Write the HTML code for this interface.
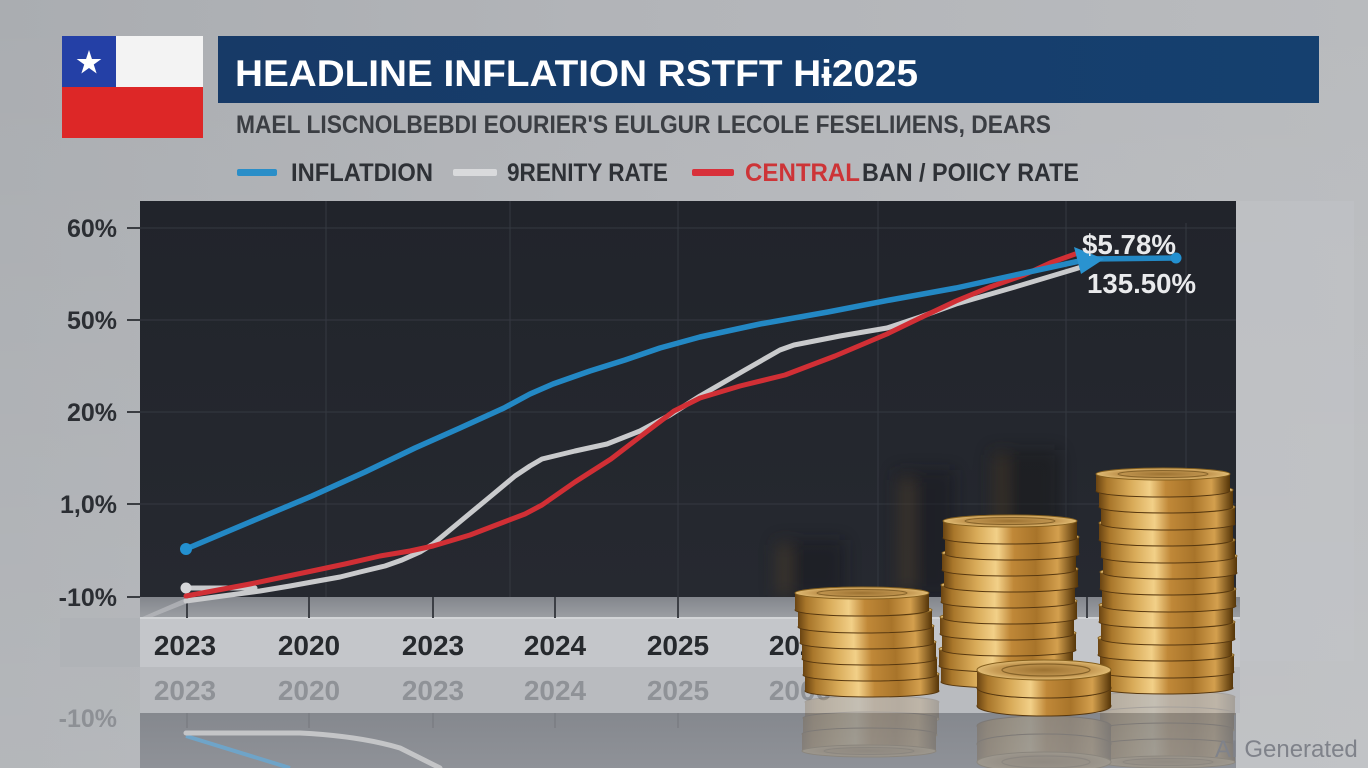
<!DOCTYPE html>
<html><head><meta charset="utf-8"><style>
html,body{margin:0;padding:0;width:1368px;height:768px;overflow:hidden;background:#b1b4b8}
svg{display:block}
text{font-family:"Liberation Sans","DejaVu Sans",sans-serif}
</style></head><body>
<svg width="1368" height="768" viewBox="0 0 1368 768" xmlns="http://www.w3.org/2000/svg">
<defs>
<linearGradient id="bg" x1="0" y1="0" x2="1" y2="0">
<stop offset="0" stop-color="#aaadb1"/><stop offset="0.5" stop-color="#b3b5b9"/><stop offset="1" stop-color="#b9bbbe"/>
</linearGradient>
<linearGradient id="bgv" x1="0" y1="0" x2="0" y2="1">
<stop offset="0" stop-color="#ffffff" stop-opacity="0"/><stop offset="1" stop-color="#ffffff" stop-opacity="0.12"/>
</linearGradient>
<linearGradient id="bar" x1="0" y1="0" x2="1" y2="0">
<stop offset="0" stop-color="#173a67"/><stop offset="1" stop-color="#15406f"/>
</linearGradient>
<linearGradient id="panel" x1="0" y1="0" x2="0" y2="1">
<stop offset="0" stop-color="#21242b"/><stop offset="1" stop-color="#262930"/>
</linearGradient>
<linearGradient id="band" x1="0" y1="0" x2="0" y2="1">
<stop offset="0" stop-color="#83868c"/><stop offset="1" stop-color="#9c9fa4"/>
</linearGradient>
<linearGradient id="refl" x1="0" y1="0" x2="0" y2="1">
<stop offset="0" stop-color="#85888e"/><stop offset="1" stop-color="#8f9298"/>
</linearGradient>
<linearGradient id="gold" x1="0" y1="0" x2="1" y2="0">
<stop offset="0" stop-color="#6a4412"/><stop offset="0.08" stop-color="#a8762a"/>
<stop offset="0.25" stop-color="#d8aa58"/><stop offset="0.4" stop-color="#f2d088"/>
<stop offset="0.52" stop-color="#c08838"/><stop offset="0.7" stop-color="#a8742a"/>
<stop offset="0.86" stop-color="#d4a04e"/><stop offset="1" stop-color="#553508"/>
</linearGradient>
<radialGradient id="goldTop" cx="0.5" cy="0.5" r="0.5">
<stop offset="0" stop-color="#9c7232"/><stop offset="0.7" stop-color="#c49852"/><stop offset="1" stop-color="#e0bb74"/>
</radialGradient>
<g id="coin">
<ellipse cx="0" cy="17" rx="67" ry="6" fill="url(#gold)" stroke="#573810" stroke-width="1"/>
<rect x="-67" y="0" width="134" height="17" fill="url(#gold)"/>
<ellipse cx="0" cy="0" rx="67" ry="6" fill="url(#goldTop)" stroke="#85601f" stroke-width="1"/>
<ellipse cx="0" cy="0" rx="45" ry="3.5" fill="none" stroke="#86632a" stroke-width="1"/>
</g>
<g id="coinF">
<ellipse cx="0" cy="18" rx="67" ry="10" fill="url(#gold)" stroke="#573810" stroke-width="1"/>
<rect x="-67" y="0" width="134" height="18" fill="url(#gold)"/>
<ellipse cx="0" cy="0" rx="67" ry="10" fill="url(#goldTop)" stroke="#85601f" stroke-width="1"/>
<ellipse cx="2" cy="0" rx="44" ry="6" fill="none" stroke="#86632a" stroke-width="1.2"/>
</g>
<filter id="blur" x="-50%" y="-50%" width="200%" height="200%"><feGaussianBlur stdDeviation="8"/></filter>
</defs>

<rect x="0" y="0" width="1368" height="768" fill="url(#bg)"/>
<rect x="0" y="0" width="1368" height="768" fill="url(#bgv)"/>
<rect x="1236" y="201" width="118" height="460" fill="#c2c4c7" opacity="0.5"/>

<rect x="62" y="36" width="141" height="102" fill="#f3f3f3"/>
<rect x="62" y="36" width="54" height="51" fill="#2440a6"/>
<rect x="62" y="87" width="141" height="51" fill="#dd2727"/>
<polygon points="89,50 91.94,58.95 101.36,58.98 93.76,64.55 96.64,73.52 89,68 81.36,73.52 84.24,64.55 76.64,58.98 86.06,58.95" fill="#ffffff"/>

<rect x="218" y="36" width="1101" height="67" fill="url(#bar)"/>
<text x="235" y="86" font-size="37" font-weight="bold" fill="#ffffff" textLength="683" lengthAdjust="spacingAndGlyphs">HEADLINE INFLATION RSTFT Hɨ2025</text>

<text x="236" y="133" font-size="25" font-weight="bold" fill="#3b3e43" textLength="815" lengthAdjust="spacingAndGlyphs">MAEL LISCNOLBEBDI EOURIER'S EULGUR LECOLE FESELIИENS, DEARS</text>

<rect x="237" y="169" width="40" height="7" rx="2" fill="#2a8ec8"/>
<text x="291" y="181" font-size="25" font-weight="bold" fill="#2e3136" textLength="142" lengthAdjust="spacingAndGlyphs">INFLATDION</text>
<rect x="453" y="169" width="44" height="7" rx="2" fill="#d9dadc"/>
<text x="507" y="181" font-size="25" font-weight="bold" fill="#2e3136" textLength="161" lengthAdjust="spacingAndGlyphs">9RENITY RATE</text>
<rect x="692" y="169" width="42" height="7" rx="2" fill="#d8303a"/>
<text x="745" y="181" font-size="25" font-weight="bold" fill="#cd3437" textLength="115" lengthAdjust="spacingAndGlyphs">CENTRAL</text>
<text x="862" y="181" font-size="25" font-weight="bold" fill="#2e3136" textLength="217" lengthAdjust="spacingAndGlyphs">BAN / POIICY RATE</text>

<rect x="140" y="201" width="1096" height="396" fill="url(#panel)"/>
<g stroke="#353941" stroke-width="1">
<line x1="140" y1="228" x2="1236" y2="228"/>
<line x1="140" y1="320" x2="1236" y2="320"/>
<line x1="140" y1="412" x2="1236" y2="412"/>
<line x1="140" y1="504" x2="1236" y2="504"/>
<line x1="326" y1="201" x2="326" y2="597"/>
<line x1="510" y1="201" x2="510" y2="597"/>
<line x1="678" y1="201" x2="678" y2="597"/>
<line x1="878" y1="201" x2="878" y2="597"/>
<line x1="1066" y1="201" x2="1066" y2="597"/>
<line x1="1186" y1="223" x2="1186" y2="597"/>
</g>
<g filter="url(#blur)" opacity="0.45">
<rect x="775" y="540" width="70" height="57" fill="#15171b"/>
<rect x="895" y="470" width="60" height="127" fill="#15171b"/>
<rect x="990" y="450" width="70" height="147" fill="#141619"/>
<rect x="780" y="545" width="8" height="50" fill="#6b5530"/>
<rect x="903" y="480" width="8" height="110" fill="#6b5530"/>
<rect x="997" y="455" width="8" height="130" fill="#5e4a2a"/>
</g>

<g stroke="#3a3d42" stroke-width="2">
<line x1="127" y1="228" x2="140" y2="228"/>
<line x1="127" y1="320" x2="140" y2="320"/>
<line x1="127" y1="412" x2="140" y2="412"/>
<line x1="127" y1="504" x2="140" y2="504"/>
<line x1="127" y1="597" x2="140" y2="597"/>
</g>
<g font-size="25" font-weight="bold" fill="#2b2e33" text-anchor="end">
<text x="117" y="237">60%</text>
<text x="117" y="329">50%</text>
<text x="117" y="421">20%</text>
<text x="117" y="513">1,0%</text>
<text x="117" y="606">-10%</text>
</g>

<rect x="140" y="597" width="1100" height="21" fill="url(#band)"/>
<polygon points="140,618 186,598 200,598 150,618" fill="#b9bbbf" opacity="0.7"/>
<rect x="60" y="618" width="80" height="49" fill="#b0b3b7"/>
<rect x="140" y="618" width="1100" height="49" fill="#c4c6ca"/>
<line x1="140" y1="618" x2="1240" y2="618" stroke="#d2d4d7" stroke-width="2"/>
<rect x="140" y="667" width="1100" height="46" fill="#b9bbbf"/>
<rect x="140" y="713" width="1096" height="55" fill="url(#refl)"/>
<g stroke="#3c3f45" stroke-width="2">
<line x1="187" y1="597" x2="187" y2="618"/>
<line x1="309" y1="597" x2="309" y2="618"/>
<line x1="433" y1="597" x2="433" y2="618"/>
<line x1="555" y1="597" x2="555" y2="618"/>
<line x1="678" y1="597" x2="678" y2="618"/>
<line x1="1087" y1="597" x2="1087" y2="618"/>
</g>
<g stroke="#7a7d83" stroke-width="1.5">
<line x1="187" y1="713" x2="187" y2="728"/>
<line x1="309" y1="713" x2="309" y2="728"/>
<line x1="433" y1="713" x2="433" y2="728"/>
<line x1="555" y1="713" x2="555" y2="728"/>
<line x1="678" y1="713" x2="678" y2="728"/>
</g>
<g font-size="28" font-weight="bold" fill="#26292d" text-anchor="middle">
<text x="185" y="655">2023</text>
<text x="309" y="655">2020</text>
<text x="433" y="655">2023</text>
<text x="555" y="655">2024</text>
<text x="678" y="655">2025</text>
<text x="800" y="655">2026</text>
</g>
<g font-size="28" font-weight="bold" fill="#8f9297" text-anchor="middle">
<text x="185" y="700">2023</text>
<text x="309" y="700">2020</text>
<text x="433" y="700">2023</text>
<text x="555" y="700">2024</text>
<text x="678" y="700">2025</text>
<text x="800" y="700">2006</text>
</g>
<text x="117" y="727" font-size="25" font-weight="bold" fill="#8d9095" text-anchor="end">-10%</text>

<path d="M186,736 L290,768" stroke="#6fa4c8" stroke-width="4" fill="none"/>
<path d="M186,733 L300,733 Q360,736 400,748 L440,768" stroke="#c4c5c7" stroke-width="5" fill="none" stroke-linecap="round"/>

<polyline points="186,601 230,595 260,591 290,586 312,582 340,577 360,572 385,566 402,560 420,552 433,544 462,520 491,496 515,476 530,466 542,459 575,451 607,444 640,431 670,415 700,396 745,370 780,350 794,345 840,336 887,328 920,317 956,304 1015,287 1075,269 1088,265" fill="none" stroke="#c9cacc" stroke-width="5" stroke-linejoin="round" stroke-linecap="round"/>
<line x1="186" y1="588" x2="255" y2="588" stroke="#c9cacc" stroke-width="5" stroke-linecap="round"/>
<circle cx="186" cy="588" r="5.5" fill="#d6d7d9"/>
<polyline points="186,596 250,584 312,571 345,564 380,556 410,551 433,546 470,535 504,522 525,514 542,505 575,482 611,459 645,433 674,411 700,398 740,386 785,375 835,356 887,334 920,318 956,301 990,287 1024,275 1050,263 1078,253" fill="none" stroke="#d12f35" stroke-width="5" stroke-linejoin="round" stroke-linecap="round"/>
<polyline points="186,549 250,522 312,496 365,472 415,448 460,428 504,408 530,394 553,384 590,371 625,360 660,348 700,337 760,324 828,312 890,300 956,288 1015,275 1075,262 1090,259 1176,258" fill="none" stroke="#2388c4" stroke-width="5.5" stroke-linejoin="round" stroke-linecap="round"/>
<circle cx="186" cy="549" r="6" fill="#2390d0"/>
<circle cx="1176" cy="258" r="5.5" fill="#2390d0"/>
<polygon points="1074,247 1104,259 1081,274" fill="#2a93d0"/>

<text x="1082" y="254" font-size="28" font-weight="bold" fill="#e9eaec" textLength="94" lengthAdjust="spacingAndGlyphs">$5.78%</text>
<text x="1087" y="293" font-size="28" font-weight="bold" fill="#e9eaec" textLength="109" lengthAdjust="spacingAndGlyphs">135.50%</text>

<g opacity="0.2">
<g transform="matrix(1,0,0,-1,0,1392)">
<use href="#coin" x="872" y="673"/><use href="#coin" x="870" y="657"/><use href="#coin" x="869" y="641"/>
</g>
<g transform="matrix(1,0,0,-1,0,1384)">
<use href="#coin" x="1168" y="670"/><use href="#coin" x="1167" y="654"/><use href="#coin" x="1166" y="638"/><use href="#coin" x="1168" y="622"/>
</g>
<g transform="matrix(1,0,0,-1,0,1432)">
<use href="#coinF" x="1044" y="688"/><use href="#coinF" x="1044" y="670"/>
</g>
</g>

<g>
<use href="#coin" x="872" y="674"/>
<use href="#coin" x="870" y="658"/>
<use href="#coin" x="869" y="642"/>
<use href="#coin" x="867" y="626"/>
<use href="#coin" x="865" y="610"/>
<use href="#coin" x="862" y="593"/>
<use href="#coin" x="1008" y="665"/>
<use href="#coin" x="1006" y="649"/>
<use href="#coin" x="1009" y="633"/>
<use href="#coin" x="1007" y="617"/>
<use href="#coin" x="1010" y="601"/>
<use href="#coin" x="1008" y="585"/>
<use href="#coin" x="1011" y="569"/>
<use href="#coin" x="1009" y="553"/>
<use href="#coin" x="1012" y="537"/>
<use href="#coin" x="1010" y="521"/>
<use href="#coin" x="1166" y="671"/>
<use href="#coin" x="1167" y="655"/>
<use href="#coin" x="1165" y="638"/>
<use href="#coin" x="1168" y="622"/>
<use href="#coin" x="1166" y="605"/>
<use href="#coin" x="1169" y="589"/>
<use href="#coin" x="1167" y="572"/>
<use href="#coin" x="1170" y="556"/>
<use href="#coin" x="1168" y="540"/>
<use href="#coin" x="1166" y="523"/>
<use href="#coin" x="1168" y="507"/>
<use href="#coin" x="1166" y="490"/>
<use href="#coin" x="1163" y="474"/>
<use href="#coinF" x="1044" y="688"/>
<use href="#coinF" x="1044" y="670"/>
</g>

<text x="1215" y="757" font-size="24" fill="#7f828a">AI Generated</text>
</svg>
</body></html>
